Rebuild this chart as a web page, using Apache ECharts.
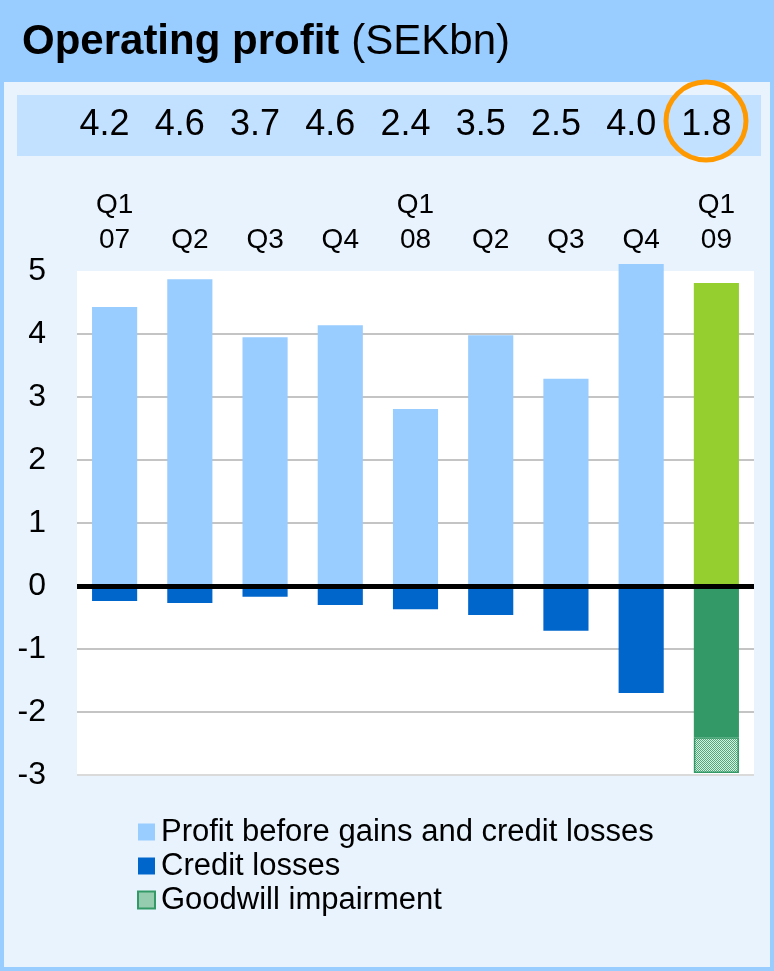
<!DOCTYPE html>
<html>
<head>
<meta charset="utf-8">
<script src="https://cdn.jsdelivr.net/npm/echarts@6/dist/echarts.min.js"></script>
<style>
  html, body { margin: 0; padding: 0; background: #E9F3FD; }
  #main { width: 774px; height: 971px; }
</style>
</head>
<body>
<div id="main"></div>
<script>
// quarters shown above the plot
const quarters = ["Q1\n07", "Q2", "Q3", "Q4", "Q1\n08", "Q2", "Q3", "Q4", "Q1\n09"];
// operating profit per quarter (strip at the top)
const totals = ["4.2", "4.6", "3.7", "4.6", "2.4", "3.5", "2.5", "4.0", "1.8"];
const profitBefore = [4.43, 4.87, 3.95, 4.14, 2.81, 3.98, 3.29, 5.11, 4.81];
const creditLosses = [-0.24, -0.27, -0.17, -0.30, -0.37, -0.46, -0.71, -1.70, -2.40];
const goodwill = [null, null, null, null, null, null, null, null, -0.57];

const FONT = "Liberation Sans, Arial, sans-serif";

// dotted fill for goodwill impairment
function makePattern() {
  const c = document.createElement("canvas");
  c.width = 4;
  c.height = 4;
  const ctx = c.getContext("2d");
  ctx.fillStyle = "#dcefe4";
  ctx.fillRect(0, 0, 4, 4);
  ctx.fillStyle = "#4fa87a";
  for (let y = 0; y < 4; y++) {
    for (let x = 0; x < 4; x++) {
      if ((x + y) % 2 === 0) ctx.fillRect(x, y, 1, 1);
    }
  }
  return c;
}

const myChart = echarts.init(document.getElementById("main"));

// last quarter is drawn in green
const profitData = profitBefore.map((v, i) =>
  i === profitBefore.length - 1 ? { value: v, itemStyle: { color: "#95CF2F" } } : v
);
const creditData = creditLosses.map((v, i) =>
  i === creditLosses.length - 1 ? { value: v, itemStyle: { color: "#339966" } } : v
);

myChart.setOption({
  backgroundColor: "#E9F3FD",
  textStyle: { fontFamily: FONT },
  animation: false,
  title: {
    text: "{b|Operating profit}{n|(SEKbn)}",
    left: 17,
    top: 16,
    textStyle: {
      rich: {
        b: { fontSize: 42, fontWeight: "bold", color: "#000", fontFamily: FONT, padding: [0, 12, 0, 0] },
        n: { fontSize: 42, fontWeight: "normal", color: "#000", fontFamily: FONT },
      },
    },
  },
  graphic: [
    { type: "rect", z: -10, silent: true, shape: { x: 0, y: 0, width: 774, height: 82 }, style: { fill: "#99CCFF" } },
    { type: "rect", z: -10, silent: true, shape: { x: 17, y: 95, width: 744, height: 61 }, style: { fill: "#C2E0FF" } },
    { type: "rect", z: 50, silent: true, shape: { x: 2, y: 2, width: 770, height: 967 }, style: { fill: null, stroke: "#99CCFF", lineWidth: 4 } },
    { type: "ellipse", z: 50, silent: true, shape: { cx: 706, cy: 121, rx: 40, ry: 39 }, style: { fill: null, stroke: "#FF9900", lineWidth: 5 } },
  ],
  legend: {
    orient: "vertical",
    left: 132,
    top: 811,
    icon: "rect",
    itemWidth: 17,
    itemHeight: 17,
    itemGap: 2,
    textStyle: { fontSize: 31, color: "#000", lineHeight: 32, padding: [0, 0, 0, 1], fontFamily: FONT },
    data: ["Profit before gains and credit losses", "Credit losses", "Goodwill impairment"],
  },
  grid: {
    left: 77,
    right: 20,
    top: 271,
    bottom: 196,
    show: true,
    backgroundColor: "#ffffff",
    borderWidth: 0,
  },
  xAxis: [
    {
      type: "category",
      position: "top",
      data: quarters,
      axisLine: { show: false, onZero: false },
      axisTick: { show: false },
      axisLabel: { fontSize: 28, lineHeight: 35, color: "#000", margin: 13, interval: 0, fontFamily: FONT },
    },
    {
      type: "category",
      position: "top",
      data: totals,
      axisLine: { show: false, onZero: false },
      axisTick: { show: false },
      axisLabel: {
        fontSize: 36,
        lineHeight: 40,
        color: "#000",
        margin: 126,
        interval: 0,
        padding: [0, 20, 0, 0],
        fontFamily: FONT,
      },
    },
  ],
  yAxis: {
    type: "value",
    min: -3,
    max: 5,
    interval: 1,
    axisLine: { show: false },
    axisTick: { show: false },
    axisLabel: { fontSize: 32, color: "#000", margin: 31, fontFamily: FONT },
    splitLine: {
      lineStyle: {
        color: ["#DADADA", "#C4C4C4", "#C4C4C4", "#C4C4C4", "#C4C4C4", "#C4C4C4", "#C4C4C4", "#C4C4C4", "rgba(0,0,0,0)"],
        width: 2,
      },
    },
  },
  series: [
    {
      name: "Profit before gains and credit losses",
      type: "bar",
      stack: "op",
      barWidth: "60%",
      clip: false,
      data: profitData,
      itemStyle: { color: "#99CCFF" },
      markLine: {
        silent: true,
        symbol: "none",
        label: { show: false },
        lineStyle: { color: "#000", width: 5, type: "solid" },
        data: [{ yAxis: 0 }],
      },
    },
    {
      name: "Credit losses",
      type: "bar",
      stack: "op",
      barWidth: "60%",
      data: creditData,
      itemStyle: { color: "#0066CC" },
    },
    {
      name: "Goodwill impairment",
      type: "bar",
      stack: "op",
      barWidth: "60%",
      data: goodwill,
      itemStyle: {
        color: { image: makePattern(), repeat: "repeat" },
        borderColor: "#339966",
        borderWidth: 1.5,
      },
    },
  ],
});
</script>
</body>
</html>
